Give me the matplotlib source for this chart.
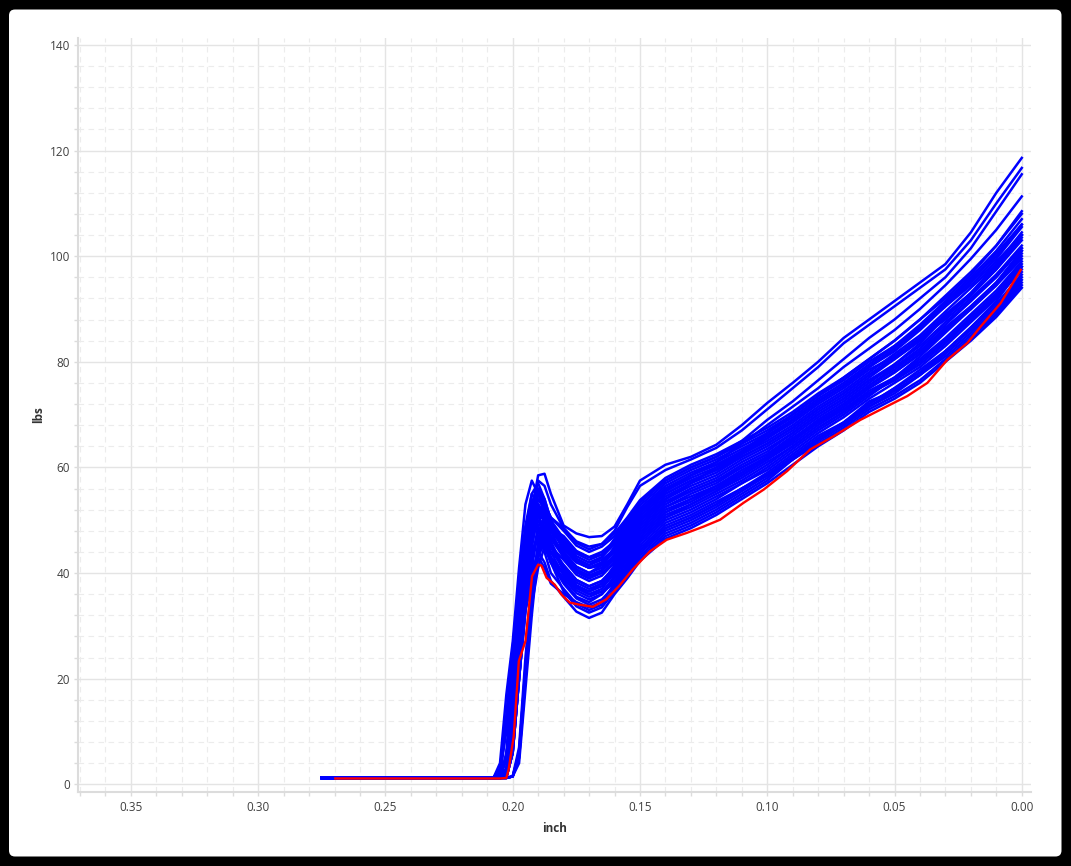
import matplotlib
matplotlib.use("Agg")
import matplotlib.pyplot as plt
from matplotlib.patches import FancyBboxPatch
from matplotlib.transforms import IdentityTransform
from matplotlib.ticker import MultipleLocator, FormatStrFormatter

# ---------------- data ----------------
x_grid = [0.275, 0.2075, 0.205, 0.2025, 0.200, 0.1975, 0.195, 0.1925, 0.190, 0.1875,
          0.185, 0.180, 0.175, 0.170, 0.165, 0.160, 0.155, 0.150, 0.140, 0.130,
          0.120, 0.110, 0.100, 0.090, 0.080, 0.070, 0.060, 0.050, 0.040, 0.030,
          0.020, 0.010, 0.000]

blue_a = [1.3, 1.3, 1.3, 3, 12, 26, 40, 52, 58.5, 58.8, 55, 49, 47.5, 46.8, 47, 48.8, 53, 57.5, 60.5, 62, 64.3, 68, 72.2, 76, 80, 84.5, 88, 91.5, 95, 98.5, 104.5, 112, 118.6]
blue_b = [1.3, 1.3, 1.3, 2.5, 10, 26, 41, 52, 57.5, 56.5, 53, 48.5, 46, 45, 45.5, 48, 52.5, 56.5, 59.5, 61.5, 63.7, 67, 71, 75, 79, 83.5, 87, 90.5, 94, 97.5, 103, 110, 116.7]
blue_c = [1.2, 1.3, 4, 17, 27, 41, 53, 57.5, 55, 52, 49, 46, 44, 43, 43.5, 46, 50, 53.5, 57.5, 60, 62, 65, 69, 72.5, 76.5, 80.5, 84.5, 88, 92, 96, 101.5, 108.5, 115.5]
blue_d = [1.3, 1.3, 1.2, 3, 13, 29, 42, 50, 53, 51.5, 48.5, 44.5, 42, 41, 41.5, 44, 47.5, 51.5, 55.5, 58.5, 61, 64.5, 68, 71.5, 75, 79, 82.5, 86, 90, 94.5, 99.5, 105, 111.3]
blue_e = [1.2, 1.2, 1.2, 1.5, 8, 24, 38, 47, 51, 50, 47, 43, 40.5, 39.5, 40.5, 43, 46.5, 50, 54, 57, 60, 63, 66.5, 70, 73.5, 77, 80.5, 84, 88, 92, 96.5, 102, 108.5]
blue_d01 = [1.2, 1.2, 1.2, 2, 12, 25, 33, 40, 44, 42, 38.5, 35.5, 32.7, 31.5, 32.5, 36, 39, 42.3, 46.5, 48.5, 51, 54, 57, 60.5, 64, 67, 70.5, 73, 76, 80, 84, 88.5, 94]
blue_d02 = [1.3, 1.3, 1.2, 1.2, 1.5, 5, 20, 34, 41, 45, 42, 36.5, 33.7, 32.5, 33.5, 36.5, 39.5, 42.8, 47, 49, 51.5, 54.5, 57.5, 61.5, 64.5, 67.5, 71, 73.5, 76.5, 80.5, 84.5, 89, 94.5]
blue_d03 = [1.2, 1.2, 1.3, 5, 18, 32, 37, 44, 47, 44, 40, 37, 34.2, 33, 34, 37, 40, 43.3, 47.5, 49.5, 52, 55, 58, 61.5, 65, 68, 71.5, 74, 77.5, 82, 86.5, 91.5, 98]
blue_d04 = [1.2, 1.2, 1.2, 1.3, 6, 20, 33, 38, 45, 46, 42, 38, 35.2, 34, 35, 37.5, 40.5, 43.8, 48, 50, 52.5, 55.5, 58.5, 61.5, 65, 68, 71.5, 74.5, 77.5, 81.5, 85.5, 90, 95.5]
blue_d05 = [1.3, 1.3, 2.5, 12, 25, 38, 44, 50, 48, 45, 42, 40, 37.2, 36, 36.5, 38, 41, 44.3, 48.5, 50.5, 53, 56, 58.5, 62, 65.5, 68.5, 72, 75, 78, 82, 86, 90.5, 96]
blue_d06 = [1.2, 1.2, 1.2, 2, 12, 27, 34, 43, 48, 46, 42, 39, 36.2, 35, 36, 38.5, 41.5, 44.8, 49, 51, 53.5, 56, 59, 62.5, 66, 68.5, 72.5, 74.5, 77.5, 81, 85, 89.5, 95]
blue_d07 = [1.2, 1.2, 1.2, 1.2, 1.5, 5, 20, 34, 43, 47, 44, 39.5, 36.7, 35.5, 36.5, 39, 42, 45.3, 49.5, 51.5, 54, 57, 59.5, 63, 66.5, 69.5, 73, 76, 79, 83, 87.5, 92, 97.5]
blue_d08 = [1.2, 1.2, 1.3, 5, 18, 32, 40, 47, 50, 47, 43, 38.5, 35.5, 34.5, 36, 39.5, 42.5, 45.8, 50, 52, 54.5, 57, 60, 63.5, 67, 70, 73.5, 77, 81, 85.5, 90, 95, 101]
blue_d09 = [1.3, 1.3, 1.2, 1.3, 6, 20, 33, 41, 48, 49, 45, 40.5, 37.7, 36.5, 37.5, 40, 43, 46.3, 50.5, 52.5, 55, 57.5, 60.5, 64, 67.5, 70.5, 74, 76.5, 80, 84, 88.5, 93, 98.5]
blue_d10 = [1.2, 1.2, 1.2, 2, 12, 27, 38, 47, 52, 50, 46, 41, 38.2, 37, 38, 40.5, 43.5, 46.8, 51, 53, 55.5, 58, 61, 64, 67.5, 70.5, 74, 77, 80.5, 84.5, 89, 93.5, 99]
blue_d11 = [1.3, 1.3, 3, 13, 26, 38, 47, 53, 51, 48, 45, 41.5, 38.7, 37.5, 38.5, 41, 44, 47.3, 51.5, 53.5, 56, 58.5, 61.5, 64.5, 68, 71, 74.5, 77, 80, 84, 88, 92.5, 97]
blue_d12 = [1.2, 1.2, 1.2, 1.2, 1.5, 6, 22, 36, 44, 48, 45, 40.5, 37.5, 36.5, 38, 41.5, 44.5, 47.8, 52, 54, 56.5, 59, 62, 65, 68.5, 71.5, 75, 78, 81.5, 86, 90, 94.5, 100.5]
blue_d13 = [1.2, 1.2, 1.3, 5, 18, 32, 41, 48, 51, 48, 45, 42.5, 39.7, 38.5, 39.5, 42, 45, 48.3, 52.5, 54.5, 56.5, 59.5, 62, 65.5, 69, 72, 75.5, 78.5, 82, 86.5, 90.5, 95, 101]
blue_d14 = [1.2, 1.2, 1.2, 2, 12, 27, 40, 49, 54, 52, 48, 43, 40.2, 39, 40, 42, 45, 48.3, 52.5, 55, 57, 60, 62.5, 66, 69.5, 72.5, 76, 79.5, 83.5, 88.5, 93, 98.5, 104]
blue_d15 = [1.2, 1.2, 1.2, 1.3, 6, 20, 33, 42, 49, 50, 47, 43.5, 40.7, 39.5, 40.5, 42.5, 45.5, 48.8, 53, 55.5, 57.5, 60.5, 63, 66.5, 70, 73, 76.5, 79.5, 83, 87.5, 91.5, 96.5, 102]
blue_d16 = [1.2, 1.2, 2, 10, 24, 39, 49, 55, 53, 50, 47, 44, 41.2, 40, 41, 43, 46, 49.3, 53.5, 56, 58, 61, 63.5, 66.5, 70, 73, 76.5, 79, 82, 86, 90, 94.5, 99.5]
blue_d17 = [1.3, 1.3, 1.2, 2, 12, 27, 38, 47, 52, 50, 46.5, 43, 40.2, 39, 40.5, 43.5, 46.5, 49.8, 54, 56.5, 58.5, 61.5, 64, 67, 70.5, 73.5, 77, 80.5, 84, 88.5, 92.5, 97.5, 103.5]
blue_d18 = [1.2, 1.2, 1.2, 1.2, 1.5, 6, 22, 36, 46, 51, 48.5, 45, 42.2, 41, 42, 44, 47, 50.3, 54.5, 57, 59, 62, 64.5, 67.5, 71, 74, 77.5, 81, 84.5, 89, 93, 98, 104]
blue_d19 = [1.2, 1.2, 1.3, 5, 18, 33, 45, 52, 55, 52, 49, 45.5, 42.7, 41.5, 42.5, 44.5, 47.5, 50.8, 55, 57.5, 59.5, 62.5, 65, 68, 71.5, 74.5, 78, 81.5, 85, 89.5, 94, 98.5, 104.5]
blue_d20 = [1.2, 1.2, 1.2, 1.3, 6, 20, 34, 45, 52, 53, 49.5, 44, 41.2, 40, 41.5, 45, 48, 51.3, 55.5, 58, 60, 62.5, 65.5, 68.5, 72, 75, 78.5, 81, 84.5, 88, 92, 96.5, 101.5]
blue_d21 = [1.2, 1.2, 1.2, 2, 12, 28, 42, 51, 56, 54, 50, 46.5, 43.7, 42.5, 43.5, 45.5, 48.5, 51.8, 56, 58.5, 60.5, 63, 65.5, 69, 72.5, 75.5, 79, 82, 86, 90.5, 95, 99.5, 105.5]
blue_d22 = [1.3, 1.3, 2, 11, 25, 38, 48, 54, 52.5, 50, 48.5, 47, 44.2, 43, 44, 46, 49, 52.3, 56.5, 59, 61, 63.5, 66, 69, 72.5, 75.5, 79, 82.5, 86.5, 91, 95.5, 100, 106]
blue_d23 = [1.2, 1.2, 1.2, 1.3, 6, 20, 34, 45, 51, 52, 49, 45.5, 42.7, 41.5, 43, 46.5, 49.5, 52.8, 57, 59.5, 61.5, 64, 66.5, 69.5, 73, 76, 79.5, 83, 87, 91.5, 96, 101, 107]
blue_d24 = [1.2, 1.2, 1.2, 2, 12, 28, 41, 50, 55, 53, 50.5, 48, 45.2, 44, 45, 47, 50, 53.3, 57.5, 60, 62, 64.5, 67, 70, 73.5, 76.5, 80, 83, 86.5, 90.5, 94.5, 99, 104]
blue_d25 = [1.3, 1.3, 1.3, 5, 18, 33, 46, 53, 56, 53, 50.5, 48.5, 45.7, 44.5, 45.5, 47.5, 50.5, 53.8, 58, 60.5, 62.5, 65, 67.5, 70.5, 74, 77, 80.5, 84, 88, 92.5, 97, 102, 108]
blue_x1 = [1.3, 1.3, 2.5, 12, 25, 38, 46, 51, 49, 46, 43, 40, 37.2, 36, 37, 40, 43, 46.3, 50.5, 53, 55.5, 58.5, 61.5, 65, 69, 72, 75.5, 79, 82.5, 87, 91.5, 96, 101.5]
blue_x2 = [1.2, 1.2, 1.2, 2, 12, 27, 39, 48, 53, 51, 48, 45, 42.2, 41, 41.5, 43, 46, 49.3, 53.5, 55.5, 57.5, 60, 62.5, 65.5, 68.5, 71, 74, 76.5, 79.5, 83.5, 88, 92.5, 98]
blue_x3 = [1.2, 1.2, 1.2, 1.2, 1.5, 7, 24, 37, 43, 46, 44, 41.5, 38.7, 37.5, 38.5, 41, 44, 47.3, 51.5, 54, 56, 59, 62, 65, 68.5, 71.5, 75, 78, 81.5, 86, 90.5, 95, 100]
blue_x4 = [1.2, 1.2, 1.3, 6, 20, 36, 48, 55, 57, 54, 50, 45, 42.2, 41, 42, 44.5, 47.5, 50.8, 55, 57.5, 59.5, 62, 64.5, 67.5, 71, 74, 77.5, 80.5, 84, 88.5, 93, 97.5, 103]
blue_x5 = [1.2, 1.2, 1.2, 3, 14, 28, 36, 41, 43, 41, 38, 36, 34.5, 33.5, 34.5, 38, 41, 44.3, 48.5, 50.5, 53, 56, 58.5, 62, 65.5, 68.5, 72, 75, 78.5, 82, 86.5, 91, 96.5]
blue_x6 = [1.2, 1.2, 1.2, 1.2, 1.5, 4, 18, 32, 44, 50, 49, 46, 43.2, 42, 43, 45.5, 48.5, 51.8, 56, 58.5, 60.5, 63, 66, 69, 72.5, 75.5, 79, 82.5, 86.5, 91, 95.5, 100.5, 106]

red_x = [0.2697, 0.205, 0.2025, 0.2016, 0.1996, 0.1976, 0.1950, 0.1924, 0.1900, 0.1887,
         0.1867, 0.1835, 0.1808, 0.1776, 0.1736, 0.1685, 0.1633, 0.1583, 0.1528, 0.1461,
         0.1395, 0.1316, 0.1250, 0.1185, 0.1093, 0.1014, 0.0922, 0.0831, 0.0739, 0.0634,
         0.0516, 0.0450, 0.0371, 0.0292, 0.0213, 0.0161, 0.0083, 0.0004]
red_y = [1.1, 1.1, 1.2, 2.8, 9.1, 23.3, 27.1, 39.4, 41.6, 41.4,
         39.1, 37.8, 35.9, 34.4, 34.0, 33.6, 35.0, 37.5, 40.7, 44.1,
         46.3, 47.6, 48.8, 50.1, 53.3, 55.8, 59.3, 63.4, 65.9, 69.0,
         71.9, 73.5, 76.0, 80.4, 83.6, 86.7, 91.1, 97.4]

blue_curves = [blue_a, blue_b, blue_c, blue_d, blue_e,
               blue_d01, blue_d02, blue_d03, blue_d04, blue_d05, blue_d06, blue_d07,
               blue_d08, blue_d09, blue_d10, blue_d11, blue_d12, blue_d13, blue_d14,
               blue_d15, blue_d16, blue_d17, blue_d18, blue_d19, blue_d20, blue_d21,
               blue_d22, blue_d23, blue_d24, blue_d25,
               blue_x1, blue_x2, blue_x3, blue_x4, blue_x5, blue_x6]

x_label = "inch"
y_label = "lbs"

# ---------------- figure ----------------
W, H = 1071, 866
fig = plt.figure(figsize=(W / 100, H / 100), dpi=100, facecolor="black")
panel = FancyBboxPatch((9, 9.5), 1052.5, 847,
                       boxstyle="round,pad=0,rounding_size=6",
                       transform=IdentityTransform(),
                       facecolor="white", edgecolor="none", zorder=-10)
fig.patches.append(panel)

ax_left, ax_right = 77.7, 1030.7
ax_top, ax_bottom = 38.0, 791.7
ax = fig.add_axes([ax_left / W, (H - ax_bottom) / H,
                   (ax_right - ax_left) / W, (ax_bottom - ax_top) / H])
ax.set_zorder(1)
ax.set_facecolor("white")

for ys in blue_curves:
    if len(ys) == len(x_grid):
        ax.plot(x_grid, ys, color="#0000ff", lw=1.8, solid_joinstyle="round", zorder=3)
ax.plot(red_x, red_y, color="#ff0000", lw=1.7, solid_joinstyle="round", zorder=4)

ax.set_xlim(0.3709, -0.0035)
ax.set_ylim(-1.4, 141.3)

ax.xaxis.set_major_locator(MultipleLocator(0.05))
ax.xaxis.set_minor_locator(MultipleLocator(0.01))
ax.yaxis.set_major_locator(MultipleLocator(20))
ax.yaxis.set_minor_locator(MultipleLocator(4))
ax.xaxis.set_major_formatter(FormatStrFormatter("%.2f"))
ax.yaxis.set_major_formatter(FormatStrFormatter("%d"))

ax.grid(which="major", color="#e4e4e4", lw=1.0, ls="-", zorder=0)
ax.grid(which="minor", color="#ececec", lw=0.8, ls=(0, (5, 4)), zorder=0)
ax.set_axisbelow(True)

for s in ["top", "right"]:
    ax.spines[s].set_visible(False)
for s in ["left", "bottom"]:
    ax.spines[s].set_color("#dcdcdc")
    ax.spines[s].set_linewidth(1.5)

tick_font = "Open Sans"
ax.tick_params(which="both", direction="out", length=3, width=1, color="#dcdcdc")
ax.tick_params(axis="x", which="major", pad=3.5, labelsize=8.5, labelcolor="#404040")
ax.tick_params(axis="y", which="major", pad=2.5, labelsize=8.5, labelcolor="#404040")
for lab in ax.get_xticklabels() + ax.get_yticklabels():
    lab.set_fontfamily(tick_font)

ax.set_xlabel(x_label, fontfamily=tick_font, fontweight="bold", fontsize=8.5,
              color="#333333", labelpad=6)
ax.set_ylabel(y_label, fontfamily=tick_font, fontweight="bold", fontsize=8.5,
              color="#333333", labelpad=3)

fig.savefig("out.png", dpi=100, facecolor="black")
